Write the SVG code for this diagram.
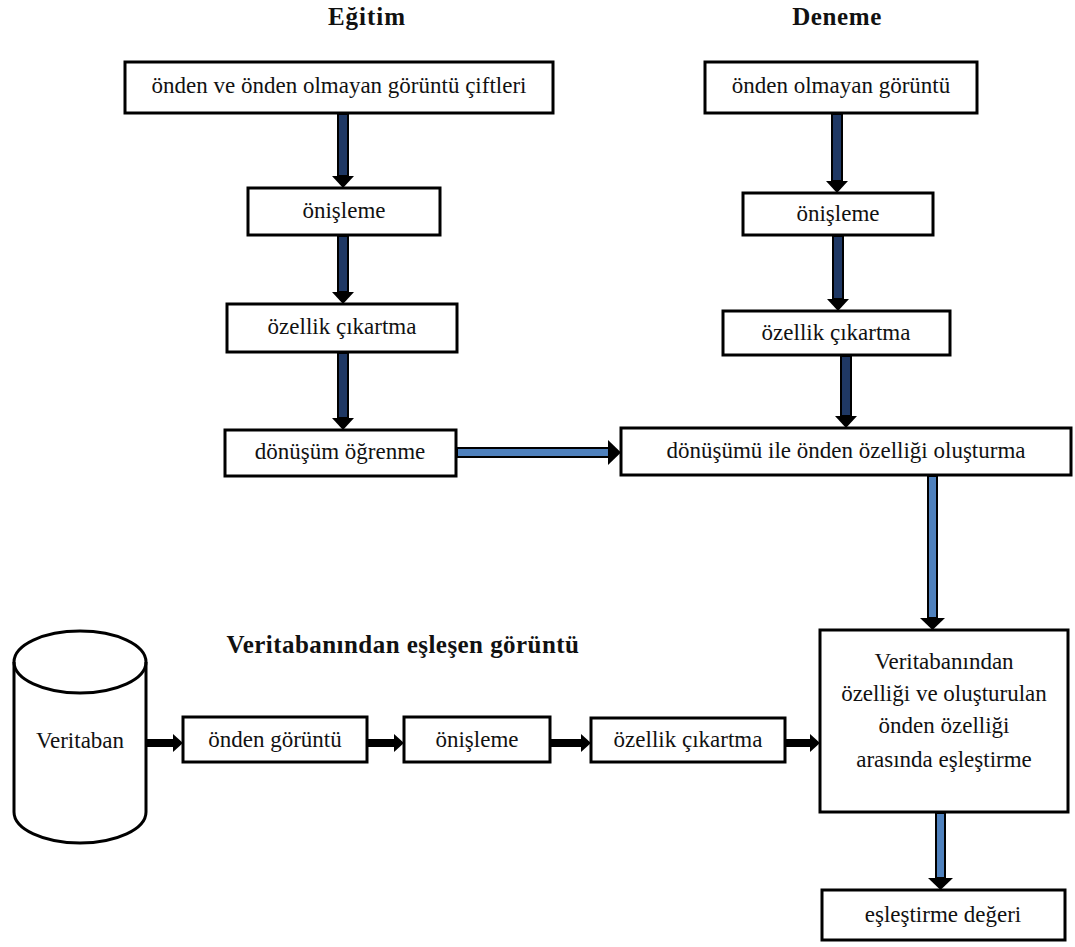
<svg xmlns="http://www.w3.org/2000/svg" width="1075" height="947" viewBox="0 0 1075 947">
<style>
.box{fill:#fff;stroke:#000;stroke-width:3}
.t{font-family:"Liberation Serif","Times New Roman",serif;font-size:23px;fill:#111;text-anchor:middle}
.h{font-family:"Liberation Serif","Times New Roman",serif;font-size:25px;font-weight:bold;fill:#111;text-anchor:middle}
.dk{fill:#1f3864;stroke:#000;stroke-width:2}
.lt{fill:#4f81bd;stroke:#000;stroke-width:2}
.hd{fill:#000}
</style>
<rect width="1075" height="947" fill="#fff"/>
<text class="h" x="367" y="25" letter-spacing="1">Eğitim</text>
<text class="h" x="837" y="25" letter-spacing="0.6">Deneme</text>
<text class="h" x="403" y="653" letter-spacing="0.45">Veritabanından eşleşen görüntü</text>

<g id="connectors">
  <rect class="dk" x="338" y="114" width="10" height="62"/><polygon class="hd" points="332,176 354,176 343,188"/>
  <rect class="dk" x="338" y="236" width="10" height="56"/><polygon class="hd" points="332,292 354,292 343,304"/>
  <rect class="dk" x="338" y="353" width="10" height="65"/><polygon class="hd" points="332,418 354,418 343,430"/>
  <rect class="dk" x="832" y="114" width="10" height="67"/><polygon class="hd" points="826,181 848,181 837,193"/>
  <rect class="dk" x="833" y="236" width="10" height="63"/><polygon class="hd" points="827,299 849,299 838,311"/>
  <rect class="dk" x="841" y="356" width="10" height="60"/><polygon class="hd" points="835,416 857,416 846,428"/>
  <rect class="lt" x="457" y="448" width="152" height="9"/><polygon class="hd" points="608,440 608,465 621,452.5"/>
  <rect class="lt" x="928" y="476" width="9" height="142"/><polygon class="hd" points="920,618 945,618 932.5,630"/>
  <rect class="lt" x="936" y="813" width="9" height="65"/><polygon class="hd" points="928,878 953,878 940.5,890"/>
  <rect class="hd" x="146" y="739" width="28" height="8"/><polygon class="hd" points="173,734 173,752 183,743"/>
  <rect class="hd" x="367" y="739" width="28" height="8"/><polygon class="hd" points="394,734 394,752 404,743"/>
  <rect class="hd" x="550" y="739" width="32" height="8"/><polygon class="hd" points="581,734 581,752 591,743"/>
  <rect class="hd" x="785" y="739" width="26" height="8"/><polygon class="hd" points="810,734 810,752 820,743"/>
</g>

<g id="n1"><rect class="box" x="125" y="62" width="428" height="51"/><text class="t" x="339" y="93">önden ve önden olmayan görüntü çiftleri</text></g>
<g id="n2"><rect class="box" x="248" y="188" width="192" height="47"/><text class="t" x="344" y="218">önişleme</text></g>
<g id="n3"><rect class="box" x="227" y="304" width="230" height="48"/><text class="t" x="342" y="334">özellik çıkartma</text></g>
<g id="n4"><rect class="box" x="225" y="430" width="231" height="46"/><text class="t" x="340" y="459">dönüşüm öğrenme</text></g>
<g id="n5"><rect class="box" x="705" y="62" width="272" height="51"/><text class="t" x="841" y="93">önden olmayan görüntü</text></g>
<g id="n6"><rect class="box" x="743" y="193" width="190" height="42"/><text class="t" x="838" y="221">önişleme</text></g>
<g id="n7"><rect class="box" x="723" y="311" width="227" height="44"/><text class="t" x="836" y="340">özellik çıkartma</text></g>
<g id="n8"><rect class="box" x="621" y="428" width="450" height="47"/><text class="t" x="846" y="458">dönüşümü ile önden özelliği oluşturma</text></g>
<g id="n9"><rect class="box" x="820" y="630" width="248" height="182"/>
  <text class="t" x="944" y="669">Veritabanından</text>
  <text class="t" x="944" y="701">özelliği ve oluşturulan</text>
  <text class="t" x="944" y="733">önden özelliği</text>
  <text class="t" x="944" y="767">arasında eşleştirme</text>
</g>
<g id="n10"><rect class="box" x="822" y="890" width="243" height="50"/><text class="t" x="943" y="922">eşleştirme değeri</text></g>
<g id="n11"><rect class="box" x="183" y="717" width="184" height="45"/><text class="t" x="275" y="747">önden görüntü</text></g>
<g id="n12"><rect class="box" x="404" y="717" width="146" height="45"/><text class="t" x="477" y="747">önişleme</text></g>
<g id="n13"><rect class="box" x="591" y="718" width="194" height="44"/><text class="t" x="688" y="747">özellik çıkartma</text></g>
<g id="db">
  <path class="box" d="M14,662 A66,31 0 0 1 146,662 L146,812 A66,31 0 0 1 14,812 Z"/>
  <path d="M14,662 A66,31 0 0 0 146,662" fill="none" stroke="#000" stroke-width="3"/>
  <text class="t" x="80" y="748">Veritaban</text>
</g>
</svg>
